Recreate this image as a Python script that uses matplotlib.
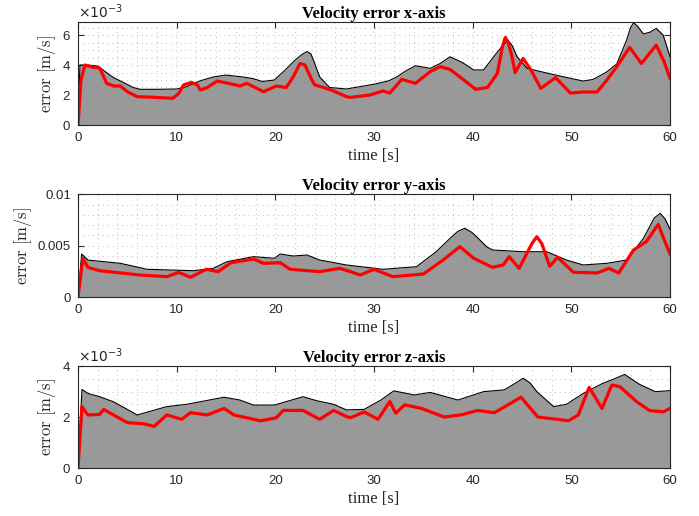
import numpy as np
import matplotlib
matplotlib.use('Agg')
import matplotlib.pyplot as plt
from matplotlib.ticker import MultipleLocator, ScalarFormatter, FixedLocator

# values, in units of 1e-3 m/s
t1_env = [0, 0.2, 1.0, 2.0, 3.5, 5.6, 6.3, 8, 10, 11, 12.4, 13.7, 15, 16.5, 17.7, 18.7, 19.9, 21, 22, 22.7, 23.2,
          23.6, 23.85, 24.5, 25.5, 27.2, 30.1, 31.5, 32.3, 33.2, 34.2, 35.7, 36.7, 37.7, 39, 40.1, 41.1, 42.4, 43.1,
          43.6, 44.0, 44.5, 45.5, 46.5, 48.8, 51.2, 52.2, 53.5, 54.6, 55.6, 56.0, 56.3, 56.7, 57.3, 58.0, 58.6,
          59.3, 60]
env1 = [0, 4.0, 4.0, 3.93, 3.2, 2.5, 2.38, 2.38, 2.4, 2.55, 2.95, 3.2, 3.33, 3.22, 3.1, 2.9, 3.0, 3.67, 4.33, 4.7, 4.9,
        4.75, 4.33, 3.2, 2.5, 2.4, 2.73, 2.95, 3.2, 3.6, 3.95, 3.78, 4.1, 4.55, 4.15, 3.67, 3.67, 4.78, 5.35,
        5.62, 5.3, 4.55, 3.78, 3.62, 3.27, 2.93, 3.04, 3.5, 4.07, 5.67, 6.5, 6.82, 6.6, 6.07, 6.2, 6.44,
        6.0, 4.55]
t1_err = [0, 0.3, 0.7, 1.5, 2.2, 2.9, 3.6, 4.3, 5.0, 6.0, 7.5, 9.6, 10.2, 10.7, 11.5, 12.1, 12.4, 13.1, 14.1, 15.1,
          16.4, 17.1, 18.8, 20.1, 21.1, 21.8, 22.5, 23.0, 23.7, 24.0, 24.9, 25.9, 27.2, 27.6, 29.6, 30.9, 31.6,
          32.8, 34.2, 35.7, 36.7, 37.7, 39.1, 40.3, 41.5, 42.5, 43.0, 43.3, 43.6, 43.9, 44.3, 45.1, 45.9, 46.9,
          48.4, 49.9, 51.2, 52.6, 53.6, 54.6, 55.9, 57.1, 58.6, 59.4, 60]
err1 = [0, 3.0, 4.0, 3.85, 3.8, 2.78, 2.6, 2.6, 2.22, 1.89, 1.85, 1.78, 2.1, 2.67, 2.84, 2.67, 2.33, 2.5, 2.93, 2.8,
        2.6, 2.78, 2.22, 2.6, 2.5, 3.2, 4.1, 4.0, 3.0, 2.67, 2.5, 2.27, 1.89, 1.84, 2.0, 2.27, 2.13,
        3.04, 2.78, 3.56, 3.89, 3.71, 3.0, 2.38, 2.5, 3.45, 5.2, 5.84, 5.5, 4.78, 3.5, 4.44, 3.67, 2.44,
        3.16, 2.13, 2.2, 2.2, 3.0, 3.89, 5.18, 4.1, 5.33, 4.22, 3.1]

t2_env = [0, 0.37, 1.0, 4.3, 7.0, 11.7, 13.7, 15.1, 17.8, 19.9, 20.5, 21.8, 23.2, 24.5, 27.2, 30.9, 34.3, 36.3,
          37.7, 38.5, 39.2, 39.9, 40.4, 41.4, 42.0, 45.1, 47.5, 49.5, 51.2, 53.6, 55.6, 57.3, 58.4, 59.0, 59.5, 60]
env2 = [0, 4.19, 3.6, 3.28, 2.7, 2.56, 2.79, 3.44, 3.93, 3.77, 4.19, 3.99, 4.09, 3.6, 3.12, 2.7, 2.95, 4.41,
        5.71, 6.4, 6.69, 6.3, 5.87, 4.9, 4.58, 4.41, 4.41, 3.6, 3.12, 3.28, 3.6, 5.71, 7.7, 8.15, 7.6, 6.59]
t2_err = [0, 0.5, 1.0, 2.2, 6.3, 9.0, 10.2, 11.4, 13.0, 14.2, 15.5, 17.8, 18.8, 20.5, 21.5, 24.5, 26.5, 27.6,
          28.6, 30.0, 31.9, 35.0, 37.0, 38.7, 40.1, 42.0, 43.1, 43.7, 44.7, 46.0, 46.5, 47.0, 47.8, 48.6, 50.2,
          52.6, 53.8, 54.8, 56.3, 57.6, 58.8, 59.4, 60]
err2 = [0, 3.77, 2.89, 2.56, 2.14, 1.98, 2.4, 1.92, 2.7, 2.47, 3.34, 3.7, 3.28, 3.34, 2.7, 2.47, 2.79, 2.47,
        2.14, 2.7, 1.98, 2.24, 3.6, 4.9, 3.77, 2.89, 3.12, 3.93, 2.79, 5.2, 5.87, 5.2, 2.99, 3.87, 2.41,
        2.34, 2.79, 2.34, 4.58, 5.39, 7.08, 5.58, 4.2]

t3_env = [0, 0.4, 1.0, 2.2, 3.6, 6.0, 9.0, 11.0, 14.8, 16.4, 17.8, 19.9, 22.8, 24.2, 25.9, 27.2, 29.0, 30.7,
          32.0, 34.1, 35.7, 38.5, 41.1, 43.2, 44.4, 45.1, 45.8, 46.5, 48.2, 49.5, 51.2, 53.2, 54.2, 55.4, 56.9,
          58.5, 60]
env3 = [0, 3.09, 2.93, 2.8, 2.6, 2.08, 2.41, 2.5, 2.78, 2.67, 2.47, 2.47, 2.8, 2.64, 2.5, 2.28, 2.3, 2.67,
        3.03, 2.87, 2.97, 2.67, 3.0, 3.07, 3.35, 3.53, 3.35, 3.0, 2.41, 2.5, 2.93, 3.33, 3.48, 3.68, 3.29,
        3.0, 3.04]
t3_err = [0, 0.4, 1.0, 2.2, 2.6, 3.6, 5.0, 6.7, 7.7, 9.0, 10.5, 11.4, 13.1, 14.8, 15.8, 18.5, 20.1, 20.8, 22.8,
          24.5, 25.9, 27.2, 27.6, 29.0, 30.4, 31.6, 32.2, 33.1, 34.8, 37.1, 38.8, 40.5, 42.2, 44.9, 46.6, 48.5,
          49.7, 50.7, 51.8, 53.1, 54.1, 54.9, 56.6, 57.9, 59.3, 60]
err3 = [0, 2.41, 2.08, 2.1, 2.3, 2.08, 1.78, 1.73, 1.63, 2.08, 1.91, 2.17, 2.08, 2.34, 2.08, 1.85, 1.97, 2.26, 2.26,
        1.91, 2.26, 2.02, 1.97, 2.2, 1.91, 2.61, 2.15, 2.48, 2.34, 2.0, 2.08, 2.26, 2.17, 2.78, 2.0, 1.91,
        1.85, 2.08, 3.17, 2.34, 3.26, 3.2, 2.61, 2.26, 2.2, 2.34]

titles = ['Velocity error x-axis', 'Velocity error y-axis', 'Velocity error z-axis']
ytop = [6.85e-3, 0.01, 4e-3]
yticks = [[0, 2e-3, 4e-3, 6e-3], [0, 0.005, 0.01], [0, 2e-3, 4e-3]]
yminor = [0.5e-3, 1e-3, 0.5e-3]

series = [(t1_env, env1, t1_err, err1), (t2_env, env2, t2_err, err2), (t3_env, env3, t3_err, err3)]
boxes = [[0.1116, 0.7578, 0.847, 0.199], [0.1116, 0.4244, 0.847, 0.199], [0.1116, 0.0936, 0.847, 0.1965]]

fig = plt.figure(figsize=(6.99, 5.16), dpi=100)
for i in range(3):
    te, ve, tr, vr = series[i]
    ax = fig.add_axes(boxes[i])
    ax.fill_between(te, 0, np.array(ve) * 1e-3, color='#999999', linewidth=0, zorder=2)
    ax.plot(te, np.array(ve) * 1e-3, color='black', linewidth=0.8, zorder=3)
    ax.plot(tr, np.array(vr) * 1e-3, color='red', linewidth=2.3, zorder=4, solid_joinstyle='round')
    ax.set_xlim(0, 60)
    ax.set_ylim(0, ytop[i])
    ax.xaxis.set_major_locator(MultipleLocator(10))
    ax.xaxis.set_minor_locator(MultipleLocator(2))
    ax.yaxis.set_major_locator(FixedLocator(yticks[i]))
    ax.yaxis.set_minor_locator(MultipleLocator(yminor[i]))
    if i == 1:
        ax.set_yticklabels(['0', '0.005', '0.01'])
    else:
        fmt = ScalarFormatter(useMathText=True)
        fmt.set_powerlimits((-3, -3))
        ax.yaxis.set_major_formatter(fmt)
        ax.yaxis.get_offset_text().set_fontsize(10)
        ax.yaxis.get_offset_text().set_color('#262626')
    ax.set_axisbelow(True)
    ax.grid(which='both', linestyle=(0, (1, 4)), linewidth=0.7, color='#bdbdbd')
    ax.tick_params(which='major', direction='in', top=True, right=True, length=4, pad=5,
                   labelsize=9.5, labelcolor='#262626', color='#262626')
    ax.tick_params(which='minor', length=0)
    for s in ax.spines.values():
        s.set_color('#262626')
        s.set_linewidth(0.8)
        s.set_zorder(5)
    for lab in ax.get_xticklabels() + ax.get_yticklabels():
        lab.set_family('Liberation Sans')
    ax.set_title(titles[i], fontsize=12, fontweight='bold', family='Liberation Serif', pad=3)
    ax.set_xlabel('time [s]', fontsize=12, family='Liberation Serif', color='#262626', labelpad=3)
    ax.set_ylabel(r'$\mathrm{error\ [m/s]}$', fontsize=12, math_fontfamily='cm', color='#262626', labelpad=3)

fig.savefig('out.png', dpi=100)
